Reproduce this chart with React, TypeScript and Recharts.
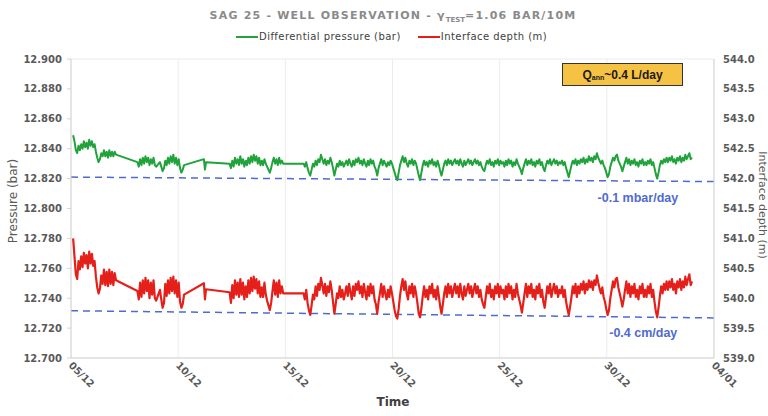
import {
  LineChart,
  Line,
  XAxis,
  YAxis,
  CartesianGrid,
  ReferenceLine,
  ReferenceDot,
} from "recharts";

// Axis ticks
const dayTicks = [0, 5, 10, 15, 20, 25, 30];
const dayLabels = ["05/12", "10/12", "15/12", "20/12", "25/12", "30/12", "04/01"];
const pressureTicks = [12.7, 12.72, 12.74, 12.76, 12.78, 12.8, 12.82, 12.84, 12.86, 12.88, 12.9];
const depthTicks = [539, 539.5, 540, 540.5, 541, 541.5, 542, 542.5, 543, 543.5, 544];

// Logged segments: start day (0 = 05/12) and sampling step in days
const segStarts = [0.1, 3.1, 4.15, 6.2, 7.4, 10.85];
const segSteps = [0.0625, 0.0625, 0.0625, 0.05, 0.0625, 0.0625];

// Differential pressure (bar)
const pressureA = [
  12.849, 12.845, 12.839, 12.837, 12.842, 12.839, 12.843, 12.84,
  12.845, 12.841, 12.844, 12.84, 12.846, 12.842, 12.845, 12.841,
  12.843, 12.838, 12.834, 12.831, 12.833, 12.837, 12.835, 12.839,
  12.835, 12.838, 12.834, 12.839, 12.835, 12.838, 12.835, 12.838,
  12.836,
];
const pressureB = [
  12.831, 12.828, 12.833, 12.829, 12.834, 12.83, 12.835, 12.831,
  12.834, 12.829, 12.833, 12.83, 12.834, 12.829, 12.828,
];
const pressureC = [
  12.831, 12.828, 12.825, 12.827, 12.832, 12.829, 12.834, 12.83,
  12.835, 12.831, 12.836, 12.83, 12.834, 12.829, 12.833, 12.827,
  12.824, 12.826, 12.829,
];
const pressureD = [12.833, 12.826, 12.831];
const pressureE = [
  12.83, 12.827, 12.832, 12.828, 12.834, 12.83, 12.833, 12.829,
  12.835, 12.83, 12.833, 12.828, 12.832, 12.829, 12.834, 12.83,
  12.835, 12.831, 12.836, 12.832, 12.835, 12.83, 12.834, 12.829,
  12.832, 12.829, 12.833, 12.83, 12.828, 12.826, 12.824, 12.827,
  12.831, 12.834, 12.83, 12.833, 12.829, 12.834, 12.83, 12.832,
  12.83,
];
const pressureF = [
  12.83, 12.828, 12.831, 12.827, 12.824, 12.822, 12.826, 12.83,
  12.828, 12.832, 12.829, 12.833, 12.831, 12.836, 12.833, 12.83,
  12.833, 12.829, 12.832, 12.83, 12.834, 12.831, 12.827, 12.822,
  12.826, 12.83, 12.828, 12.832, 12.829, 12.831, 12.828, 12.83,
  12.832, 12.829, 12.833, 12.83, 12.828, 12.832, 12.829, 12.833,
  12.831, 12.834, 12.83, 12.832, 12.829, 12.833, 12.83, 12.828,
  12.832, 12.829, 12.833, 12.83, 12.832, 12.828, 12.826, 12.822,
  12.827, 12.83, 12.833, 12.829, 12.832, 12.83, 12.828, 12.831,
  12.829, 12.832, 12.83, 12.827, 12.824, 12.821, 12.819, 12.824,
  12.829, 12.832, 12.835, 12.831, 12.834, 12.83, 12.828, 12.832,
  12.83, 12.833, 12.829, 12.832, 12.83, 12.826, 12.822, 12.819,
  12.824, 12.829, 12.832, 12.829, 12.831, 12.828, 12.832, 12.83,
  12.833, 12.829, 12.831, 12.828, 12.832, 12.829, 12.825, 12.822,
  12.826, 12.83, 12.832, 12.829, 12.833, 12.83, 12.832, 12.829,
  12.831, 12.833, 12.83, 12.832, 12.829, 12.833, 12.83, 12.828,
  12.832, 12.829, 12.831, 12.833, 12.83, 12.832, 12.829, 12.831,
  12.833, 12.83, 12.832, 12.829, 12.831, 12.828, 12.826, 12.825,
  12.829, 12.832, 12.83, 12.833, 12.829, 12.831, 12.828, 12.832,
  12.83, 12.833, 12.829, 12.832, 12.83, 12.831, 12.828, 12.832,
  12.829, 12.833, 12.83, 12.832, 12.828, 12.831, 12.829, 12.833,
  12.83, 12.828, 12.826, 12.823, 12.827, 12.83, 12.833, 12.829,
  12.832, 12.83, 12.833, 12.829, 12.831, 12.828, 12.832, 12.83,
  12.833, 12.829, 12.831, 12.827, 12.825, 12.829, 12.832, 12.83,
  12.833, 12.829, 12.831, 12.833, 12.83, 12.832, 12.829, 12.831,
  12.83, 12.832, 12.829, 12.831, 12.827, 12.824, 12.821, 12.825,
  12.829, 12.832, 12.83, 12.833, 12.829, 12.832, 12.83, 12.833,
  12.831, 12.834, 12.83, 12.833, 12.831, 12.835, 12.832, 12.834,
  12.831, 12.835, 12.833, 12.837, 12.834, 12.832, 12.83, 12.832,
  12.829, 12.827, 12.824, 12.821, 12.823, 12.828, 12.831, 12.834,
  12.832, 12.835, 12.836, 12.832, 12.83, 12.828, 12.825, 12.828,
  12.831, 12.834, 12.83, 12.833, 12.829, 12.832, 12.83, 12.833,
  12.829, 12.831, 12.828, 12.832, 12.83, 12.833, 12.829, 12.831,
  12.829, 12.832, 12.83, 12.833, 12.829, 12.831, 12.827, 12.823,
  12.82, 12.824, 12.829, 12.832, 12.83, 12.833, 12.831, 12.834,
  12.831, 12.834, 12.832, 12.835, 12.831, 12.833, 12.83, 12.834,
  12.832, 12.835, 12.831, 12.834, 12.832, 12.836, 12.833, 12.835,
  12.837, 12.833, 12.834,
];

// Interface depth (m)
const depthA = [
  541.0, 540.7, 540.4, 540.32, 540.62, 540.48, 540.7, 540.52,
  540.76, 540.58, 540.72, 540.5, 540.78, 540.58, 540.74, 540.54,
  540.62, 540.36, 540.18, 540.08, 540.16, 540.38, 540.24, 540.48,
  540.22, 540.44, 540.2, 540.48, 540.24, 540.44, 540.22, 540.42,
  540.3,
];
const depthB = [
  540.12, 539.98, 540.26, 540.02, 540.3, 540.08, 540.34, 540.12,
  540.3, 540.0, 540.26, 540.06, 540.3, 540.0, 539.96,
];
const depthC = [
  540.14, 539.98, 539.84, 539.92, 540.24, 540.04, 540.3, 540.08,
  540.34, 540.12, 540.36, 540.08, 540.3, 540.02, 540.26, 539.94,
  539.84, 539.9, 540.06,
];
const depthD = [540.25, 539.98, 540.15];
const depthE = [
  540.1, 539.92, 540.22, 540.0, 540.3, 540.06, 540.26, 540.02,
  540.32, 540.06, 540.26, 539.98, 540.2, 540.02, 540.3, 540.08,
  540.34, 540.12, 540.36, 540.16, 540.32, 540.08, 540.28, 540.02,
  540.18, 540.02, 540.26, 540.06, 539.96, 539.88, 539.8, 539.92,
  540.12, 540.3, 540.06, 540.26, 540.02, 540.3, 540.08, 540.2,
  540.08,
];
const depthF = [
  540.08, 539.98, 540.14, 539.92, 539.8, 539.72, 539.88, 540.06,
  539.98, 540.2, 540.04, 540.24, 540.14, 540.34, 540.22, 540.08,
  540.24, 540.04, 540.2, 540.1, 540.28, 540.14, 539.94, 539.74,
  539.9, 540.08, 540.0, 540.2, 540.02, 540.14, 539.98, 540.08,
  540.2, 540.04, 540.24, 540.1, 539.98, 540.2, 540.04, 540.24,
  540.14, 540.28, 540.08, 540.2, 540.02, 540.24, 540.1, 539.98,
  540.2, 540.04, 540.24, 540.08, 540.2, 539.98, 539.9, 539.74,
  539.94, 540.08, 540.24, 540.02, 540.2, 540.08, 539.98, 540.14,
  540.02, 540.2, 540.08, 539.94, 539.8, 539.7, 539.66, 539.82,
  540.04, 540.2, 540.32, 540.14, 540.28, 540.08, 539.98, 540.2,
  540.08, 540.24, 540.02, 540.2, 540.08, 539.92, 539.74, 539.68,
  539.84, 540.04, 540.2, 540.02, 540.14, 539.98, 540.2, 540.08,
  540.24, 540.02, 540.14, 539.98, 540.2, 540.04, 539.86, 539.74,
  539.9, 540.08, 540.2, 540.02, 540.24, 540.08, 540.2, 540.02,
  540.14, 540.24, 540.08, 540.2, 540.02, 540.24, 540.08, 539.98,
  540.2, 540.04, 540.14, 540.24, 540.08, 540.2, 540.02, 540.14,
  540.24, 540.08, 540.2, 540.02, 540.14, 539.98, 539.9, 539.84,
  540.02, 540.2, 540.08, 540.24, 540.02, 540.14, 539.98, 540.2,
  540.08, 540.24, 540.02, 540.2, 540.08, 540.14, 539.98, 540.2,
  540.02, 540.24, 540.08, 540.2, 539.98, 540.14, 540.02, 540.24,
  540.08, 539.98, 539.88, 539.76, 539.92, 540.08, 540.24, 540.02,
  540.2, 540.08, 540.24, 540.02, 540.14, 539.98, 540.2, 540.08,
  540.24, 540.02, 540.14, 539.94, 539.84, 540.02, 540.2, 540.08,
  540.24, 540.02, 540.14, 540.24, 540.08, 540.2, 540.02, 540.14,
  540.08, 540.2, 540.02, 540.14, 539.94, 539.82, 539.72, 539.86,
  540.02, 540.2, 540.08, 540.24, 540.02, 540.2, 540.08, 540.24,
  540.14, 540.28, 540.08, 540.24, 540.14, 540.3, 540.18, 540.28,
  540.14, 540.3, 540.22, 540.38, 540.26, 540.16, 540.08, 540.18,
  540.02, 539.94, 539.82, 539.72, 539.8, 540.0, 540.14, 540.28,
  540.18, 540.32, 540.34, 540.18, 540.08, 539.98, 539.86, 539.98,
  540.14, 540.28, 540.08, 540.24, 540.02, 540.2, 540.08, 540.24,
  540.02, 540.14, 539.98, 540.2, 540.08, 540.24, 540.02, 540.14,
  540.02, 540.2, 540.08, 540.24, 540.02, 540.14, 539.94, 539.78,
  539.68, 539.84, 540.04, 540.2, 540.08, 540.24, 540.14, 540.28,
  540.14, 540.28, 540.18, 540.32, 540.14, 540.24, 540.08, 540.28,
  540.18, 540.32, 540.14, 540.28, 540.18, 540.36, 540.22, 540.32,
  540.4, 540.22, 540.28,
];

// Linear trends over the whole window (day 0 and day 30)
const trendDays = [0, 30];
const pressureTrend = [12.821, 12.818];
const depthTrend = [539.79, 539.67];

const pressureSegs = [pressureA, pressureB, pressureC, pressureD, pressureE, pressureF];
const depthSegs = [depthA, depthB, depthC, depthD, depthE, depthF];

const rows = pressureSegs.flatMap((seg, s) =>
  seg.map((p, i) => ({
    day: +(segStarts[s] + i * segSteps[s]).toFixed(4),
    pressure: p,
    depth: depthSegs[s][i],
  }))
);

const GREEN = "#1fa33a";
const RED = "#e5201b";
const TREND = "#4f6bd0";
const AXIS_TEXT = "#595959";
const FONT = "'DejaVu Sans', sans-serif";
const LABEL_FONT = "'Liberation Sans', Arial, sans-serif";

function DayTick({ x, y, payload }: any) {
  const label = dayLabels[dayTicks.indexOf(payload.value)] ?? "";
  return (
    <text
      x={x - 3}
      y={y}
      transform={`rotate(45 ${x - 3} ${y})`}
      textAnchor="start"
      fontSize={10}
      fontWeight="bold"
      fill={AXIS_TEXT}
      fontFamily={FONT}
    >
      {label}
    </text>
  );
}

const tickStyle = { fontSize: 10, fontWeight: "bold", fill: AXIS_TEXT, fontFamily: FONT };
const trendLabel = { position: "center" as const, fill: TREND, fontSize: 12.5, fontWeight: "bold", fontFamily: LABEL_FONT };

export default function App() {
  return (
    <div
      style={{
        position: "absolute",
        left: 0,
        top: 0,
        width: 768,
        height: 416,
        overflow: "hidden",
        background: "#fff",
        fontFamily: FONT,
      }}
    >
      <div
        style={{
          position: "absolute",
          left: 0,
          width: 786,
          top: 9,
          textAlign: "center",
          fontSize: 11,
          fontWeight: "bold",
          letterSpacing: 1.2,
          color: "#8a8a8a",
          whiteSpace: "nowrap",
        }}
      >
        SAG 25 - WELL OBSERVATION - γ<sub style={{ fontSize: 7, letterSpacing: 0 }}>TEST</sub>=1.06 BAR/10M
      </div>

      <div
        style={{
          position: "absolute",
          left: 236,
          top: 31,
          display: "flex",
          alignItems: "center",
          fontSize: 10,
          letterSpacing: 0.45,
          color: "#404040",
          whiteSpace: "nowrap",
        }}
      >
        <span style={{ width: 22, height: 2, background: GREEN, display: "inline-block" }} />
        <span style={{ marginLeft: 1 }}>Differential pressure (bar)</span>
        <span style={{ width: 22, height: 2, background: RED, display: "inline-block", marginLeft: 17 }} />
        <span style={{ marginLeft: 1 }}>Interface depth (m)</span>
      </div>

      <LineChart
        width={768}
        height={416}
        data={rows}
        margin={{ top: 59, right: 14, bottom: 28, left: 8 }}
      >
        <CartesianGrid stroke="#ececec" />
        <XAxis
          dataKey="day"
          type="number"
          domain={[0, 30]}
          ticks={dayTicks}
          height={30}
          tick={<DayTick />}
          tickLine={false}
          tickSize={4}
          tickMargin={4}
          axisLine={{ stroke: "#d4d4d4" }}
          interval={0}
        />
        <YAxis
          yAxisId="left"
          domain={[12.7, 12.9]}
          ticks={pressureTicks}
          width={63}
          tick={tickStyle}
          tickFormatter={(v: number) => v.toFixed(3)}
          tickSize={4}
          tickMargin={5}
          tickLine={{ stroke: "#d4d4d4" }}
          axisLine={{ stroke: "#d4d4d4" }}
          interval={0}
        />
        <YAxis
          yAxisId="right"
          orientation="right"
          domain={[539, 544]}
          ticks={depthTicks}
          width={40}
          tick={tickStyle}
          tickFormatter={(v: number) => v.toFixed(1)}
          tickSize={4}
          tickMargin={5}
          tickLine={false}
          axisLine={{ stroke: "#d4d4d4" }}
          interval={0}
        />

        <ReferenceLine
          yAxisId="left"
          segment={[
            { x: trendDays[0], y: pressureTrend[0] },
            { x: trendDays[1], y: pressureTrend[1] },
          ]}
          stroke={TREND}
          strokeWidth={1.5}
          strokeDasharray="7 5"
        />
        <ReferenceLine
          yAxisId="right"
          segment={[
            { x: trendDays[0], y: depthTrend[0] },
            { x: trendDays[1], y: depthTrend[1] },
          ]}
          stroke={TREND}
          strokeWidth={1.5}
          strokeDasharray="7 5"
        />

        <Line
          yAxisId="left"
          dataKey="pressure"
          stroke={GREEN}
          strokeWidth={2}
          strokeLinejoin="round"
          dot={false}
          isAnimationActive={false}
        />
        <Line
          yAxisId="right"
          dataKey="depth"
          stroke={RED}
          strokeWidth={2.2}
          strokeLinejoin="round"
          dot={false}
          isAnimationActive={false}
        />

        <ReferenceDot yAxisId="left" x={26.45} y={12.807} r={0} label={{ value: "-0.1 mbar/day", ...trendLabel }} />
        <ReferenceDot yAxisId="right" x={26.7} y={539.42} r={0} label={{ value: "-0.4 cm/day", ...trendLabel }} />
      </LineChart>

      <div
        style={{
          position: "absolute",
          left: 562,
          top: 63,
          width: 119,
          height: 21,
          border: "1px solid #333",
          background: "#f5c244",
          display: "flex",
          alignItems: "center",
          justifyContent: "center",
          fontFamily: LABEL_FONT,
          fontWeight: "bold",
          fontSize: 12,
          color: "#1a1a1a",
          whiteSpace: "nowrap",
        }}
      >
        Q<sub style={{ fontSize: 7, position: "relative", top: 3 }}>ann</sub>~0.4 L/day
      </div>

      <div
        style={{
          position: "absolute",
          left: 13,
          top: 201,
          transform: "translate(-50%, -50%) rotate(-90deg)",
          fontSize: 12,
          color: AXIS_TEXT,
          whiteSpace: "nowrap",
        }}
      >
        Pressure (bar)
      </div>
      <div
        style={{
          position: "absolute",
          left: 762,
          top: 205,
          transform: "translate(-50%, -50%) rotate(90deg)",
          fontSize: 11,
          color: AXIS_TEXT,
          whiteSpace: "nowrap",
        }}
      >
        Interface depth (m)
      </div>
      <div
        style={{
          position: "absolute",
          left: 393,
          top: 402,
          transform: "translate(-50%, -50%)",
          fontSize: 12,
          fontWeight: "bold",
          color: "#404040",
        }}
      >
        Time
      </div>
    </div>
  );
}
